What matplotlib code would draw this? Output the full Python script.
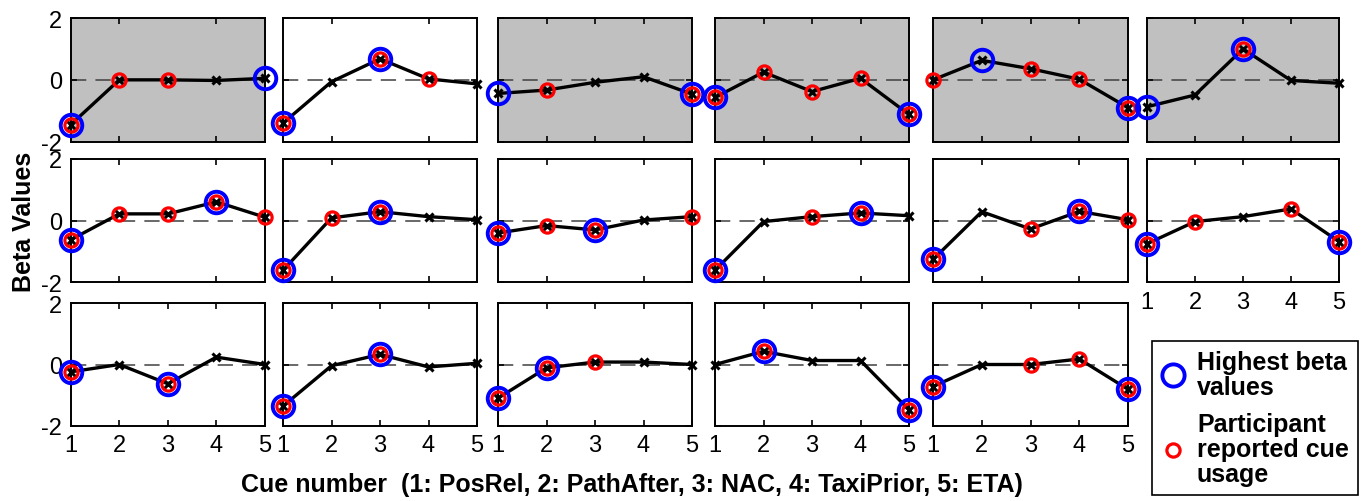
import numpy as np
import matplotlib
matplotlib.use('Agg')
import matplotlib.pyplot as plt
from matplotlib.lines import Line2D

plt.rcParams['font.family'] = ['Liberation Sans', 'DejaVu Sans']

cues = [1, 2, 3, 4, 5]
cue_names = ['PosRel', 'PathAfter', 'NAC', 'TaxiPrior', 'ETA']

# beta values, one list per participant panel (rows of six, last row five)
betas = [
    [-1.45, 0.00, 0.00, -0.02, 0.05],
    [-1.40, -0.06, 0.68, 0.03, -0.13],
    [-0.44, -0.33, -0.08, 0.10, -0.46],
    [-0.57, 0.25, -0.38, 0.05, -1.12],
    [0.00, 0.63, 0.36, 0.02, -0.90],
    [-0.87, -0.49, 1.00, -0.02, -0.11],
    [-0.62, 0.22, 0.22, 0.61, 0.11],
    [-1.61, 0.09, 0.29, 0.13, 0.03],
    [-0.40, -0.16, -0.30, 0.02, 0.13],
    [-1.61, -0.03, 0.13, 0.25, 0.16],
    [-1.26, 0.29, -0.27, 0.30, 0.03],
    [-0.75, -0.03, 0.13, 0.38, -0.68],
    [-0.24, 0.00, -0.63, 0.24, 0.00],
    [-1.36, -0.04, 0.33, -0.08, 0.04],
    [-1.10, -0.11, 0.08, 0.08, 0.00],
    [0.00, 0.43, 0.13, 0.13, -1.48],
    [-0.72, 0.00, 0.00, 0.18, -0.81],
]
# cues with the highest beta values (blue)
highest = [
    [1, 5], [1, 3], [1, 5], [1, 5], [2, 5], [1, 3],
    [1, 4], [1, 3], [1, 3], [1, 4], [1, 4], [1, 5],
    [1, 3], [1, 3], [1, 2], [2, 5], [1, 5],
]
# cues the participant reported using (red)
reported = [
    [1, 2, 3], [1, 3, 4], [2, 5], [1, 2, 3, 4, 5], [1, 3, 4, 5], [3],
    [1, 2, 3, 4, 5], [1, 2, 3], [1, 2, 3, 5], [1, 3, 4], [1, 3, 4, 5], [1, 2, 4, 5],
    [1, 3], [1, 3], [1, 2, 3], [2, 5], [1, 3, 4, 5],
]
shaded = [0, 2, 3, 4, 5]
labelled = [11, 12, 13, 14, 15, 16]
three_ticks = [2, 3, 4, 5, 14]

W, H = 1363, 502
col_edges = [(70.7, 265), (283, 477), (498, 692), (715, 909), (933, 1128), (1147, 1339)]
row_edges = [(19, 142.7), (160, 283.3), (304.3, 426.7)]

tick_font = ['Liberation Sans Narrow', 'Liberation Sans', 'DejaVu Sans']

fig = plt.figure(figsize=(W / 100, H / 100), dpi=100)

for i, vals in enumerate(betas):
    r, c = divmod(i, 6)
    x0, x1 = col_edges[c]
    y0, y1 = row_edges[r]
    ax = fig.add_axes([x0 / W, 1 - y1 / H, (x1 - x0) / W, (y1 - y0) / H])
    if i in shaded:
        ax.set_facecolor('#c0c0c0')
    ax.axhline(0, color='#404040', lw=1.1, dashes=(10, 6), zorder=1)
    ax.plot(cues, vals, color='k', lw=2.4, marker='x', ms=6, mew=2.2,
            clip_on=False, zorder=3)
    hx = np.array(highest[i])
    ax.plot(hx, np.array(vals)[hx - 1], 'o', mfc='none', mec='#0000ff',
            ms=15.5, mew=2.8, clip_on=False, zorder=4)
    rx = np.array(reported[i])
    ax.plot(rx, np.array(vals)[rx - 1], 'o', mfc='none', mec='#ff0000',
            ms=9.5, mew=2.3, clip_on=False, zorder=5)

    ax.set_xlim(1, 5)
    ax.set_ylim(-2, 2)
    if i in labelled:
        ax.set_xticks(cues)
        ax.set_xticklabels([str(v) for v in cues], family=tick_font, fontsize=17)
    else:
        ax.set_xticks([2, 3, 4] if i in three_ticks else [2, 4])
        ax.set_xticklabels([])
    ax.set_yticks([-2, 0, 2])
    if c == 0:
        ax.set_yticklabels(['-2', '0', '2'], family=tick_font, fontsize=17)
    else:
        ax.set_yticklabels([])
    ax.tick_params(direction='in', top=True, right=True, length=4, width=1.2,
                   pad=6, colors='k')
    for s in ax.spines.values():
        s.set_linewidth(1.4)

fig.text(24 / W, 1 - 222 / H, 'Beta Values', rotation=90, ha='center', va='center',
         fontsize=18, fontweight='bold')
xlab = 'Cue number  (' + ', '.join('%d: %s' % (n, name) for n, name in zip(cues, cue_names)) + ')'
fig.text(632 / W, 1 - 485 / H, xlab, ha='center', va='center', fontsize=18,
         fontweight='bold', family=tick_font)

handles = [
    Line2D([], [], ls='none', marker='o', mfc='none', mec='#0000ff', ms=16, mew=2.8),
    Line2D([], [], ls='none', marker='o', mfc='none', mec='#ff0000', ms=9.5, mew=2.3),
]
leg = fig.legend(handles, ['Highest beta\nvalues', 'Participant\nreported cue\nusage'],
                 loc='upper left', bbox_to_anchor=(1152 / W, 1 - 342 / H),
                 borderaxespad=0, frameon=True, fancybox=False, framealpha=1,
                 edgecolor='k', handlelength=1.0, handletextpad=0.45,
                 labelspacing=0.55, borderpad=0.35,
                 prop={'size': 18, 'weight': 'bold'})
leg.get_frame().set_linewidth(1.2)
for t in leg.get_texts():
    t.set_linespacing(1.05)

fig.savefig('out.png', dpi=100)
